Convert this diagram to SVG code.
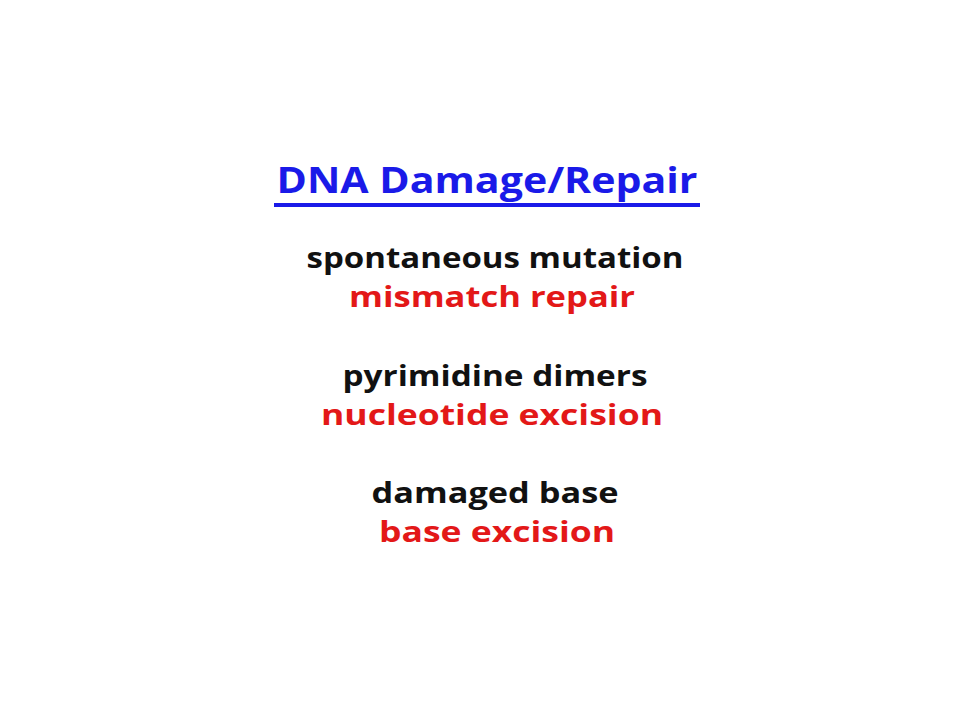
<svg xmlns="http://www.w3.org/2000/svg" width="960" height="720" viewBox="0 0 960 720">
<style>
text{font-family:"Open Sans","Lato","Liberation Sans",sans-serif;font-weight:700;text-anchor:middle}
.t{font-size:35px;fill:#1a1ae8}
.k{font-size:29px;fill:#111}
.r{font-size:29px;fill:#e31818}
</style>
<rect width="960" height="720" fill="#fff"/>
<g id="title">
<text class="t" x="487" y="193" textLength="421" lengthAdjust="spacingAndGlyphs">DNA Damage/Repair</text>
<rect x="274" y="203" width="426" height="4" fill="#1a1ae8"/>
</g>
<g id="item1">
<text class="k" x="495" y="268" textLength="377" lengthAdjust="spacingAndGlyphs">spontaneous mutation</text>
<text class="r" x="492" y="307" textLength="286" lengthAdjust="spacingAndGlyphs">mismatch repair</text>
</g>
<g id="item2">
<text class="k" x="495" y="386" textLength="305" lengthAdjust="spacingAndGlyphs">pyrimidine dimers</text>
<text class="r" x="492" y="425" textLength="342" lengthAdjust="spacingAndGlyphs">nucleotide excision</text>
</g>
<g id="item3">
<text class="k" x="495" y="503" textLength="247" lengthAdjust="spacingAndGlyphs">damaged base</text>
<text class="r" x="497" y="542" textLength="236" lengthAdjust="spacingAndGlyphs">base excision</text>
</g>
<g id="connectors"/>
</svg>
